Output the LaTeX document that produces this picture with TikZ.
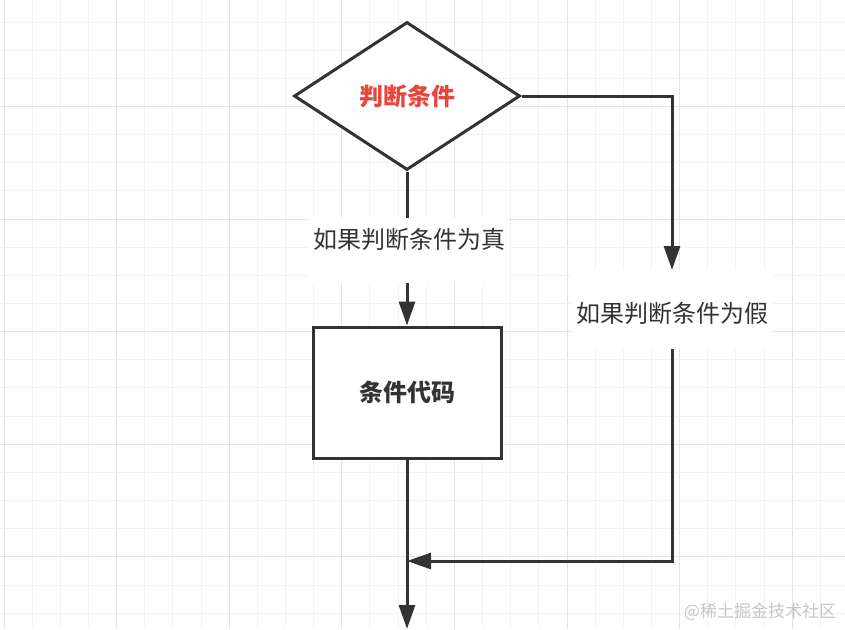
\documentclass[tikz,border=0pt]{standalone}
\usepackage{fontspec}
\newfontfamily\cjk{Noto Sans CJK SC}
\usetikzlibrary{arrows.meta,shapes.geometric}
\definecolor{ink}{HTML}{333333}
\definecolor{redtxt}{HTML}{E8453C}
\definecolor{gridminor}{HTML}{F2F2F2}
\definecolor{gridmajor}{HTML}{E4E4E4}
\tikzset{
  ln/.style={draw=ink, line width=3pt},
  arr/.style={-{Triangle[length=24pt,width=16pt]}},
  dia/.style={diamond, draw=ink, line width=3pt, fill=white, inner sep=0pt,
    minimum width=226pt, minimum height=148pt,
    font=\cjk\bfseries\fontsize{24}{28}\selectfont, text=redtxt},
  blk/.style={rectangle, draw=ink, line width=3pt, fill=white,
    minimum width=188pt, minimum height=131pt,
    font=\cjk\bfseries\fontsize{24}{28}\selectfont, text=ink},
  lblbox/.style={rectangle, fill=white, inner xsep=4pt, inner ysep=0pt,
    font=\cjk\fontsize{24}{28}\selectfont, text=ink},
}
\begin{document}
\begin{tikzpicture}[x=1pt,y=-1pt]
\useasboundingbox (0,0) rectangle (845,629);
\fill[white] (0,0) rectangle (845,629);
% grid
\foreach \k in {0,...,29} {
  \pgfmathsetmacro{\gx}{4+28.15*\k}
  \pgfmathtruncatemacro{\m}{mod(\k,4)}
  \ifnum\m=0
    \draw[gridmajor, line width=1pt] (\gx,0) -- (\gx,629);
  \else
    \draw[gridminor, line width=1pt] (\gx,0) -- (\gx,629);
  \fi
}
\foreach \k in {0,...,22} {
  \pgfmathsetmacro{\gy}{-6.15+28.15*\k}
  \pgfmathtruncatemacro{\m}{mod(\k,4)}
  \ifnum\m=0
    \draw[gridmajor, line width=1pt] (0,\gy) -- (845,\gy);
  \else
    \draw[gridminor, line width=1pt] (0,\gy) -- (845,\gy);
  \fi
}
% nodes
\node[dia] (cond) at (407,96) {判断条件};
\node[blk] (code) at (407,392.5) {条件代码};
\node[lblbox, anchor=north, text height=30pt, text depth=35pt] (t) at (409,218) {如果判断条件为真};
\node[lblbox, anchor=north, text height=52pt, text depth=27pt] (f) at (672,270) {如果判断条件为假};
\coordinate (join) at (407,561);
\coordinate (out) at (407,629);
% connectors
\draw[ln] (cond.south) -- (t.north -| cond.south);
\draw[ln,arr] (t.south -| cond.south) -- (code.north);
\draw[ln,arr] (cond.east) -| (f.north);
\draw[ln,arr] (f.south) -- (f.south |- join) -- (join);
\draw[ln,arr] (code.south) -- (out);
% watermark
\node[font=\cjk\fontsize{17}{20}\selectfont, text=gray!45] (wm) at (760,612) {@稀土掘金技术社区};
\end{tikzpicture}
\end{document}
